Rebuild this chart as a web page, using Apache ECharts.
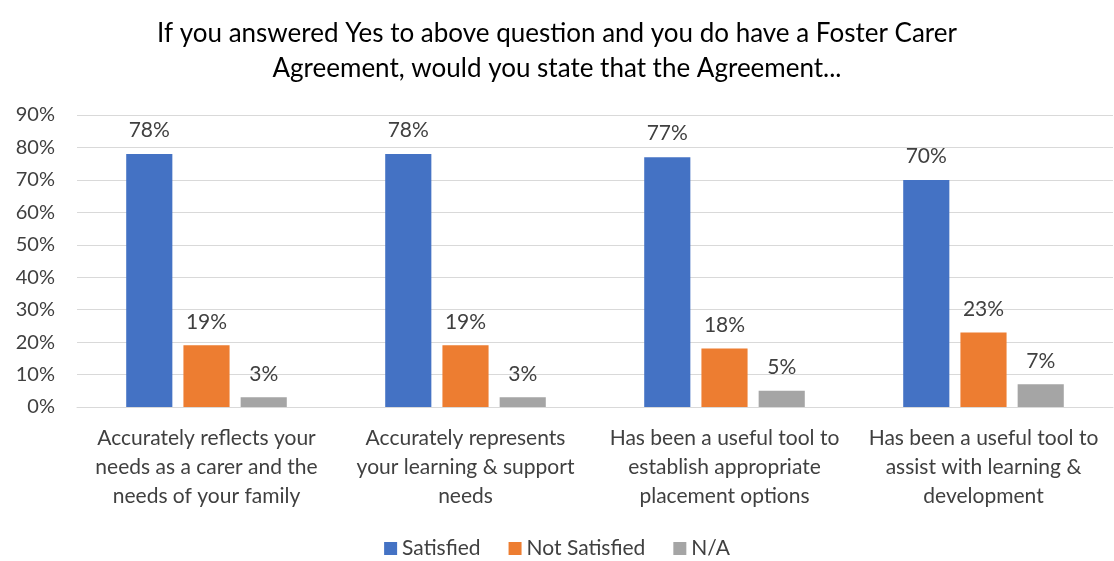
<!DOCTYPE html>
<html><head><meta charset="utf-8">
<script src="https://cdn.jsdelivr.net/npm/echarts@6/dist/echarts.min.js"></script>
<style>html,body{margin:0;padding:0;background:#fff}#c{width:1114px;height:561px}</style>
</head><body><div id="c"></div>
<script>
const categories = [
  "Accurately reflects your\nneeds as a carer and the\nneeds of your family",
  "Accurately represents\nyour learning & support\nneeds",
  "Has been a useful tool to\nestablish appropriate\nplacement options",
  "Has been a useful tool to\nassist with learning &\ndevelopment"
];
const satisfied = [78, 78, 77, 70];
const notSatisfied = [19, 19, 18, 23];
const na = [3, 3, 5, 7];
const seriesNames = ["Satisfied", "Not Satisfied", "N/A"];
const colors = ["#4472C4", "#ED7D31", "#A5A5A5"];
const FONT = "Lato";
const chart = echarts.init(document.getElementById('c'));
const lbl = {show:true, position:'top', distance:13, formatter:'{c}%', color:'#404040', fontSize:21, fontFamily:FONT};
chart.setOption({
  animation:false,
  color: colors,
  title:{text:"If you answered Yes to above question and you do have a Foster Carer\nAgreement, would you state that the Agreement...", left:'center', top:11,
    textStyle:{fontFamily:FONT, fontSize:26, fontWeight:'normal', color:'#000', lineHeight:35}},
  legend:{bottom:-3, left:'center', itemWidth:13, itemHeight:13, itemGap:28, icon:'rect',
    textStyle:{fontFamily:FONT, fontSize:21, color:'#404040'}, data:seriesNames},
  grid:{left:77, right:1, top:115, bottom:154},
  xAxis:{type:'category', data:categories,
    axisLine:{lineStyle:{color:'#D9D9D9'}}, axisTick:{show:false},
    axisLabel:{fontFamily:FONT, fontSize:21, color:'#404040', lineHeight:29, margin:17, interval:0}},
  yAxis:{type:'value', min:0, max:90, interval:10,
    axisLabel:{formatter:'{value}%', fontFamily:FONT, fontSize:20, color:'#404040', margin:22},
    splitLine:{lineStyle:{color:'#D9D9D9'}}, axisLine:{show:false}, axisTick:{show:false}},
  series:[
    {name:seriesNames[0], type:'bar', data:satisfied, barGap:'24%', barCategoryGap:'38%', label:lbl},
    {name:seriesNames[1], type:'bar', data:notSatisfied, label:lbl},
    {name:seriesNames[2], type:'bar', data:na, label:lbl}
  ]
});
</script></body></html>
